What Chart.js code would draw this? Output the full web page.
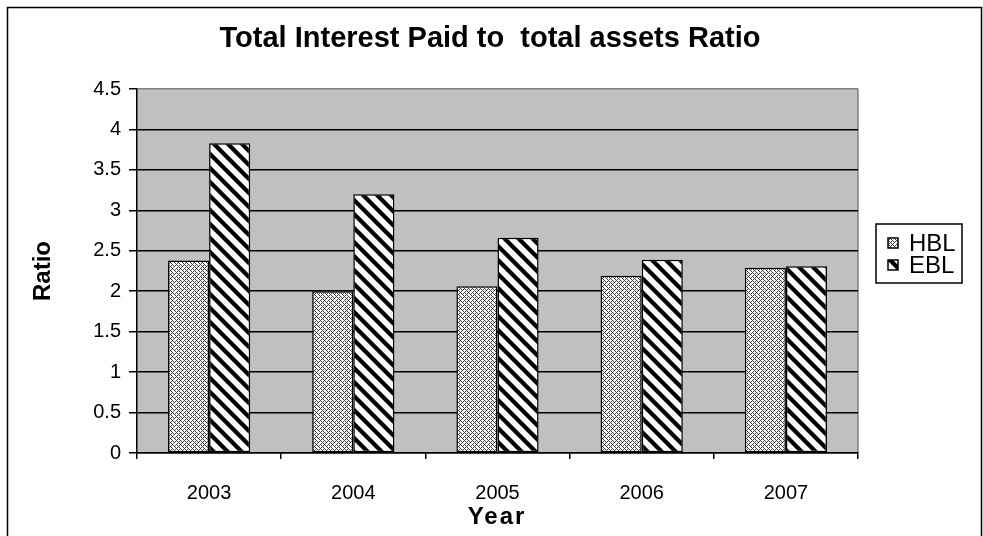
<!DOCTYPE html>
<html>
<head>
<meta charset="utf-8">
<script src="https://cdn.jsdelivr.net/npm/chart.js@4.4.1/dist/chart.umd.min.js"></script>
<style>
  html, body { margin: 0; padding: 0; background: #fff; }
  #wrap { width: 983px; height: 536px; }
</style>
</head>
<body>
<div id="wrap"><canvas id="grafik" width="983" height="536"></canvas></div>
<script>
// yillar ve oranlar
var yillar = ['2003', '2004', '2005', '2006', '2007'];
var hblOran = [2.38, 2.0, 2.06, 2.19, 2.29];
var eblOran = [3.83, 3.2, 2.66, 2.39, 2.31];
var yTicks = [0, 0.5, 1, 1.5, 2, 2.5, 3, 3.5, 4, 4.5];
var baslik = 'Total Interest Paid to  total assets Ratio';

var yaziTipi = "'Liberation Sans', Arial, sans-serif";

// HBL icin orgu (weave) deseni
function orguDesen()
{
	var satir = [
		"10001000",
		"01010101",
		"00100010",
		"01010100",
		"10001000",
		"01010101",
		"00100010",
		"01010001"
	];
	var c = document.createElement('canvas');
	c.width = 8; c.height = 8;
	var x = c.getContext('2d');
	x.fillStyle = '#ffffff';
	x.fillRect(0, 0, 8, 8);
	x.fillStyle = '#3c3c3c';
	for (var i = 0; i < 8; i++) {
		for (var j = 0; j < 8; j++) {
			if (satir[i].charAt(j) == '1') x.fillRect(j, i, 1, 1);
		}
	}
	return x.createPattern(c, 'repeat');
}

// EBL icin capraz serit deseni
function seritDesen()
{
	var n = 14;
	var c = document.createElement('canvas');
	c.width = n; c.height = n;
	var x = c.getContext('2d');
	x.fillStyle = '#ffffff';
	x.fillRect(0, 0, n, n);
	x.strokeStyle = '#000000';
	x.lineWidth = 4.2;
	for (var k = -1; k <= 1; k++) {
		x.beginPath();
		x.moveTo(k * n - 2, -2);
		x.lineTo(k * n + n + 2, n + 2);
		x.stroke();
	}
	return x.createPattern(c, 'repeat');
}

var desenHBL = orguDesen();
var desenEBL = seritDesen();

// cizim alani arka plani, baslik, cerceve, lejant ve x ekseni basligi
var ekler = {
	id: 'ekler',
	beforeDraw: function (chart) {
		var ctx = chart.ctx, a = chart.chartArea;
		ctx.save();
		ctx.fillStyle = '#ffffff';
		ctx.fillRect(0, 0, chart.width, chart.height);
		ctx.fillStyle = '#c0c0c0';
		ctx.fillRect(a.left, a.top, a.right - a.left, a.bottom - a.top);
		ctx.strokeStyle = '#808080';
		ctx.lineWidth = 1.5;
		ctx.beginPath();
		ctx.moveTo(a.right, a.top);
		ctx.lineTo(a.right, a.bottom);
		ctx.stroke();
		ctx.restore();
	},
	afterDraw: function (chart) {
		var ctx = chart.ctx;
		ctx.save();
		// dis cerceve
		ctx.strokeStyle = '#000000';
		ctx.lineWidth = 1.5;
		ctx.strokeRect(7.5, 7.5, 974, 540);

		// baslik
		ctx.fillStyle = '#000000';
		ctx.font = "bold 29px " + yaziTipi;
		ctx.textAlign = 'center';
		ctx.textBaseline = 'middle';
		ctx.fillText(baslik, 490, 39);

		// lejant
		ctx.lineWidth = 1.5;
		ctx.strokeRect(876, 224, 86, 59);
		var ds = chart.data.datasets;
		ctx.font = "24px " + yaziTipi;
		ctx.textAlign = 'left';
		for (var i = 0; i < ds.length; i++) {
			var y = 243 + i * 22;
			ctx.fillStyle = ds[i].backgroundColor;
			ctx.fillRect(888, y - 5, 10, 10);
			ctx.strokeRect(888, y - 5, 10, 10);
			ctx.fillStyle = '#000000';
			ctx.fillText(ds[i].label, 909, y + 1);
		}

		// x ekseni basligi
		ctx.font = "bold 24px " + yaziTipi;
		ctx.letterSpacing = '2px';
		ctx.textAlign = 'center';
		ctx.fillText('Year', 497, 517);
		ctx.restore();
	}
};

var ctx = document.getElementById('grafik').getContext('2d');
var grafik = new Chart(ctx, {
	type: 'bar',
	data: {
		labels: yillar,
		datasets: [
			{
				label: 'HBL',
				data: hblOran,
				backgroundColor: desenHBL,
				borderColor: '#000000',
				borderWidth: 1.5,
				borderSkipped: false
			}, {
				label: 'EBL',
				data: eblOran,
				backgroundColor: desenEBL,
				borderColor: '#000000',
				borderWidth: 1.5,
				borderSkipped: false
			}
		]
	},
	options: {
		responsive: false,
		animation: false,
		devicePixelRatio: 1,
		layout: { padding: { left: 8, right: 125, top: 89, bottom: 0 } },
		datasets: { bar: { categoryPercentage: 0.57, barPercentage: 1.0 } },
		plugins: {
			legend: { display: false },
			tooltip: { enabled: false },
			title: { display: false }
		},
		scales: {
			x: {
				afterFit: function (s) { s.height = 83; },
				grid: {
					drawOnChartArea: false,
					drawTicks: true,
					tickLength: 6,
					color: '#000000',
					lineWidth: 1.5
				},
				border: { color: '#000000', width: 1.5 },
				ticks: {
					color: '#000000',
					padding: 22,
					font: { family: yaziTipi, size: 20 }
				}
			},
			y: {
				min: 0,
				max: 4.5,
				afterFit: function (s) { s.width = 129; },
				afterBuildTicks: function (s) {
					s.ticks = yTicks.map(function (v) { return { value: v }; });
				},
				grid: {
					color: function (c) { return (c.tick && c.tick.value == 4.5) ? '#808080' : '#000000'; },
					lineWidth: 1.5,
					tickLength: 8,
					tickColor: '#000000'
				},
				border: { color: '#000000', width: 1.5 },
				ticks: {
					color: '#000000',
					padding: 8,
					font: { family: yaziTipi, size: 20 },
					callback: function (v) { return String(v); }
				},
				title: {
					display: true,
					text: 'Ratio',
					color: '#000000',
					font: { family: yaziTipi, size: 24, weight: 'bold', lineHeight: 1.2 },
					padding: { top: 20.6, bottom: 0 }
				}
			}
		}
	},
	plugins: [ekler]
});
</script>
</body>
</html>
